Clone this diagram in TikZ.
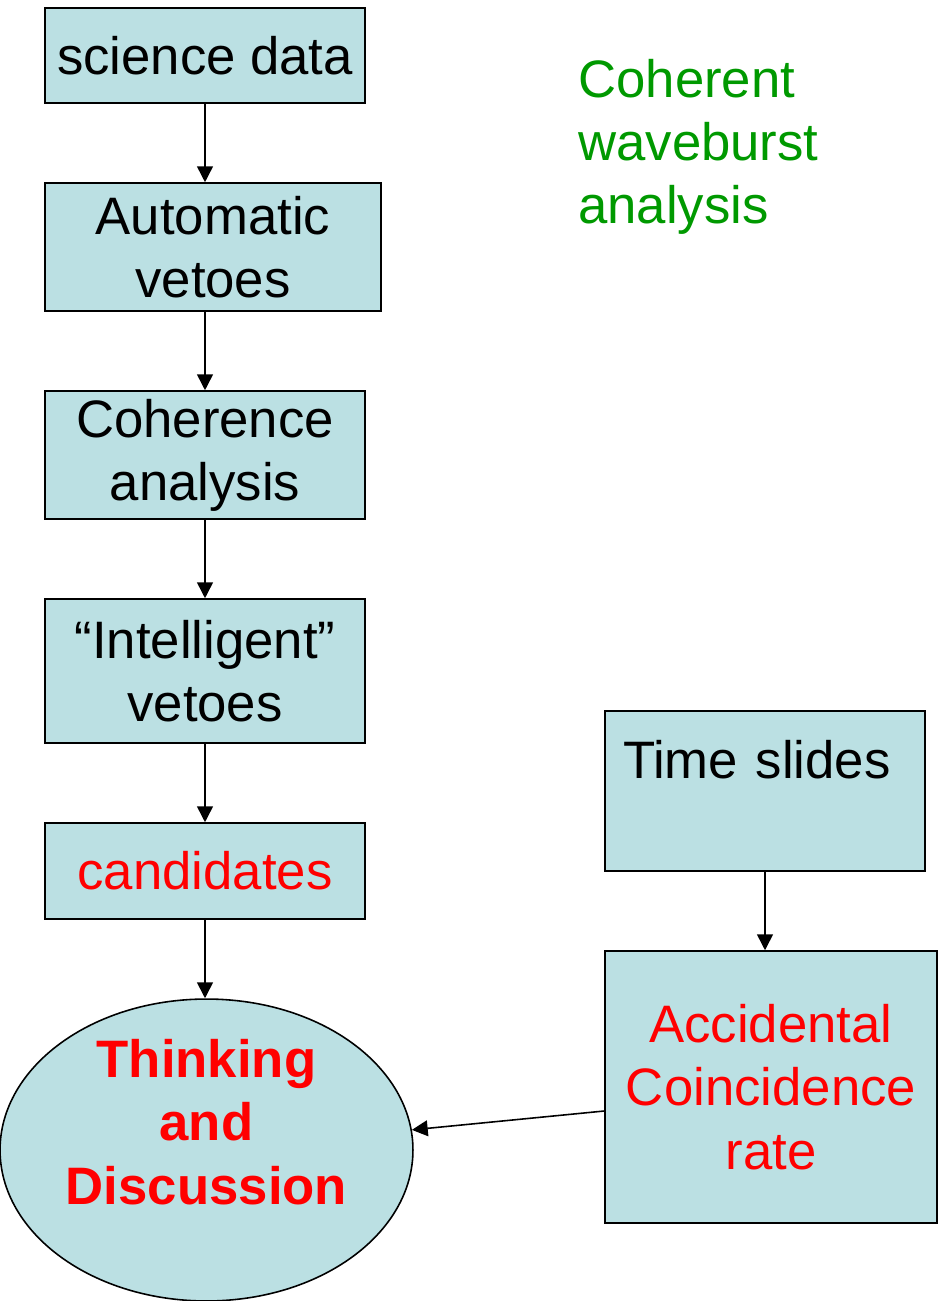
\documentclass[tikz,border=0pt]{standalone}
\usepackage{fontspec}
\setmainfont{Liberation Sans}
\usetikzlibrary{arrows.meta,shapes.geometric}
\definecolor{boxfill}{RGB}{187,224,227}
\definecolor{hotred}{RGB}{255,0,0}
\definecolor{wbgreen}{RGB}{0,153,0}

\begin{document}
\begin{tikzpicture}[x=0.02cm,y=-0.02cm,
	box/.style={draw,line width=0.9pt,fill=boxfill,align=center,inner sep=0pt,font=\fontsize{30}{36}\selectfont},
	flow/.style={line width=0.9pt,-{Triangle[length=9pt,width=9pt]}},
	hot/.style={text=hotred}]
	\useasboundingbox (0,0) rectangle (937,1301);
	\node[box,minimum width=6.4cm,minimum height=1.9cm] (sci) at (205,55.5) {science data};
	\node[box,minimum width=6.72cm,minimum height=2.56cm] (auto) at (213,247) {Automatic\\vetoes};
	\node[box,minimum width=6.4cm,minimum height=2.56cm] (coh) at (205,455) {Coherence\\analysis};
	\node[box,minimum width=6.4cm,minimum height=2.88cm] (intel) at (205,671) {“Intelligent”\\vetoes};
	\node[box,hot,minimum width=6.4cm,minimum height=1.92cm] (cand) at (205,871) {candidates};
	\node[box,ellipse,minimum width=8.26cm,minimum height=6.04cm] (disc) at (206.5,1150) {};
	\node[hot,align=center,font=\bfseries\fontsize{30}{36}\selectfont] (disctext) at (206.5,1122) {Thinking\\and\\Discussion};
	\node[box,align=left,text width=5.68cm,inner sep=0.36cm,minimum height=3.2cm] (time) at (765,791) {Time slides\\\mbox{}};
	\node[box,hot,minimum width=6.64cm,minimum height=5.44cm] (acc) at (771,1087) {Accidental\\Coincidence\\rate};
	\node[anchor=west,align=left,text=wbgreen,inner sep=0pt,font=\fontsize{30}{36}\selectfont] (cwb) at (578,147) {Coherent\\waveburst\\analysis};
	\draw[flow] (sci.south) -- (sci.south |- auto.north);
	\draw[flow] (coh.north |- auto.south) -- (coh.north);
	\draw[flow] (coh.south) -- (intel.north);
	\draw[flow] (intel.south) -- (cand.north);
	\draw[flow] (cand.south) -- (cand.south |- disc.north);
	\draw[flow] (time.south) -- (time.south |- acc.north);
	\draw[flow] ([yshift=-0.48cm]acc.west) -- (disc);
\end{tikzpicture}
\end{document}
